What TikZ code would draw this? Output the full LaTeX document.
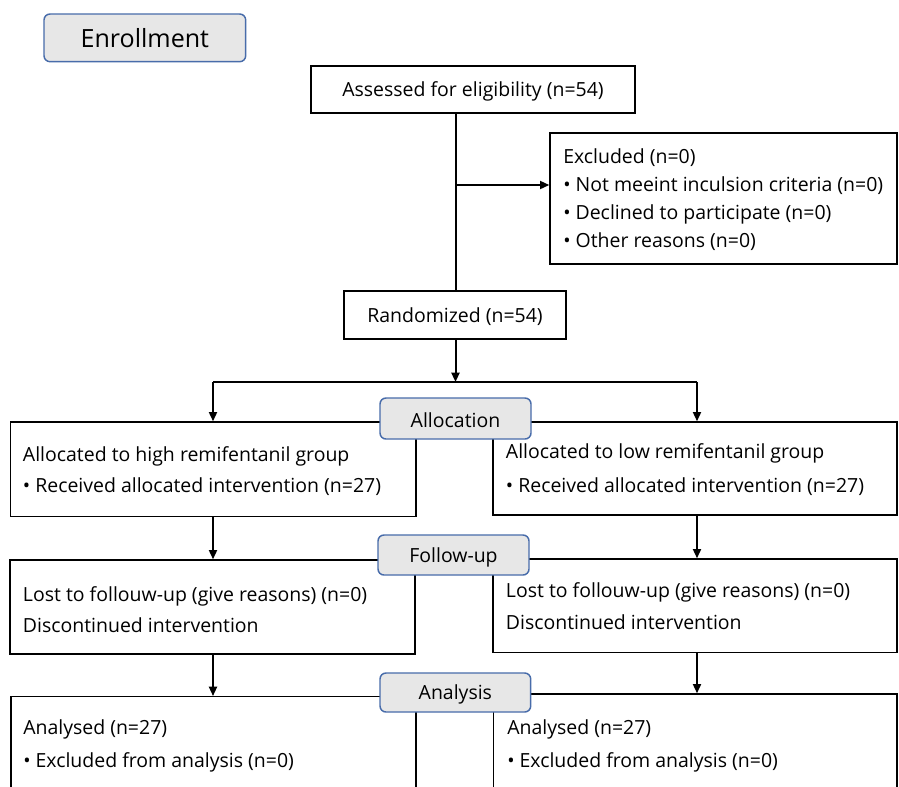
\documentclass[tikz,border=0pt]{standalone}
\usepackage{fontspec}
\setmainfont{Open Sans}
\usetikzlibrary{arrows.meta,fit}
\definecolor{phasefill}{RGB}{231,231,231}
\definecolor{phaseedge}{RGB}{72,108,170}
\begin{document}
\begin{tikzpicture}[x=0.75pt,y=-0.75pt,
  box/.style={draw=black, line width=1pt, fill=white, inner sep=0pt},
  phase/.style={draw=phaseedge, line width=1.1pt, fill=phasefill, rounded corners=4.5pt, inner sep=0pt},
  txt/.style={anchor=west, inner sep=0pt, font=\fontsize{14.6}{17}\selectfont},
  ctxt/.style={inner sep=0pt, yshift=-1.5pt, font=\fontsize{14.6}{17}\selectfont},
  conn/.style={line width=1.5pt},
  arr/.style={line width=1.5pt, -{Triangle[length=7pt,width=6pt]}}]
\clip (0,0) rectangle (899,786);
\fill[white] (0,0) rectangle (899,786);

% enrollment
\node[phase, fit={(44,14) (245.7,61.7)}] (enrol) {};
\node[ctxt, yshift=1pt, font=\fontsize{18.8}{22}\selectfont] (enrolt) at (enrol.center) {Enrollment};

% top boxes
\node[box, fit={(311,66) (635,113)}] (assess) {};
\node[ctxt] (assesst) at (assess.center) {Assessed for eligibility (n=54)};
\node[box, fit={(550,133) (897,264)}] (excl) {};
\node[txt] (ex1) at (563,158) {Excluded (n=0)};
\node[txt] (ex2) at (563,186) {\textbullet\ Not meeint inculsion criteria (n=0)};
\node[txt] (ex3) at (563,214) {\textbullet\ Declined to participate (n=0)};
\node[txt] (ex4) at (563,242) {\textbullet\ Other reasons (n=0)};
\node[box, fit={(344,291) (566,339)}] (rand) {};
\node[ctxt] (randt) at (rand.center) {Randomized (n=54)};

% allocation row
\node[box, fit={(10.7,422) (416,516.5)}] (alL) {};
\node[txt] (alL1) at (22.7,456) {Allocated to high remifentanil group};
\node[txt] (alL2) at (22.7,487) {\textbullet\ Received allocated intervention (n=27)};
\node[box, fit={(493,422) (897,515)}] (alR) {};
\node[txt] (alR1) at (505.7,453) {Allocated to low remifentanil group};
\node[txt] (alR2) at (505.7,487) {\textbullet\ Received allocated intervention (n=27)};

% follow-up row
\node[box, fit={(10,560) (415,654)}] (fuL) {};
\node[txt] (fuL1) at (22.7,596) {Lost to follouw-up (give reasons) (n=0)};
\node[txt] (fuL2) at (22.7,625) {Discontinued intervention};
\node[box, fit={(493,559) (897,652.5)}] (fuR) {};
\node[txt] (fuR1) at (505.7,592) {Lost to follouw-up (give reasons) (n=0)};
\node[txt] (fuR2) at (505.7,622) {Discontinued intervention};

% analysis row
\node[box, fit={(11,696.7) (416,820)}] (anL) {};
\node[txt] (anL1) at (23,729) {Analysed (n=27)};
\node[txt] (anL2) at (23,762) {\textbullet\ Excluded from analysis (n=0)};
\node[box, fit={(493.5,694) (897,820)}] (anR) {};
\node[txt] (anR1) at (507,729) {Analysed (n=27)};
\node[txt] (anR2) at (507,762) {\textbullet\ Excluded from analysis (n=0)};

% connectors
\coordinate (trunk) at (455.5,0);
\coordinate (exy) at (455.5,185);
\coordinate (split) at (455.5,382);
\coordinate (lsplit) at (213,382);
\coordinate (rsplit) at (697,382);
\draw[conn] (trunk |- assess.south) -- (trunk |- rand.north);
\draw[arr] (exy) -- (exy -| excl.west);
\draw[arr] (trunk |- rand.south) -- (split);
\draw[conn] (lsplit) -- (rsplit);
\draw[arr] (lsplit) -- (lsplit |- alL.north);
\draw[arr] (rsplit) -- (rsplit |- alR.north);
\draw[arr] (lsplit |- alL.south) -- (lsplit |- fuL.north);
\draw[arr] (rsplit |- alR.south) -- (rsplit |- fuR.north);
\draw[arr] (lsplit |- fuL.south) -- (lsplit |- anL.north);
\draw[arr] (rsplit |- fuR.south) -- (rsplit |- anR.north);

% phase labels on top
\node[phase, fit={(380,398) (531,439)}] (alloc) {};
\node[ctxt] (alloct) at (alloc.center) {Allocation};
\node[phase, fit={(378,535) (529,575)}] (follow) {};
\node[ctxt] (followt) at (follow.center) {Follow-up};
\node[phase, fit={(380,673) (530.7,712)}] (analysis) {};
\node[ctxt] (analysist) at (analysis.center) {Analysis};
\end{tikzpicture}
\end{document}
